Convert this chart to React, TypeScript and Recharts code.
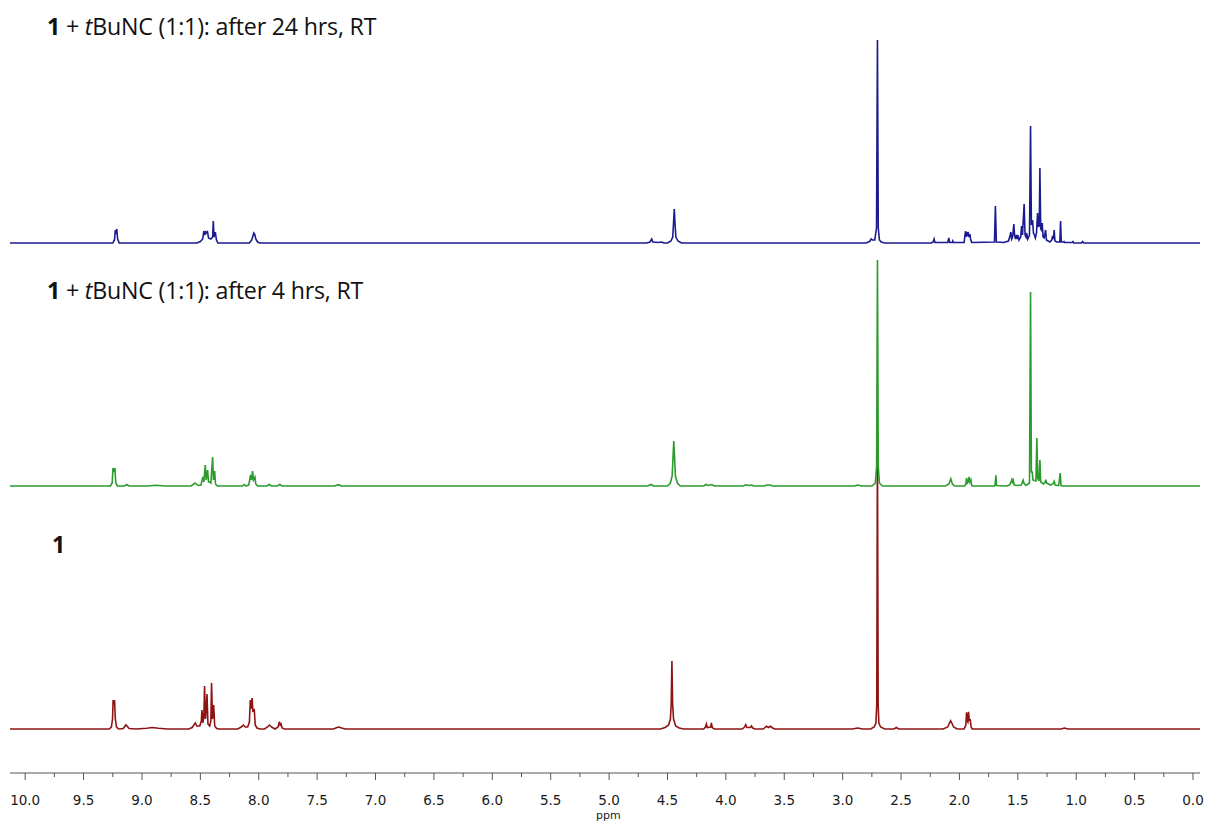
import { LineChart, Line, XAxis, YAxis } from "recharts";

// ppm axis ticks
const majorTicks = [10, 9.5, 9, 8.5, 8, 7.5, 7, 6.5, 6, 5.5, 5, 4.5, 4, 3.5, 3, 2.5, 2, 1.5, 1, 0.5, 0];
const minorTicks = [9.75, 9.25, 8.75, 8.25, 7.75, 7.25, 6.75, 6.25, 5.75, 5.25, 4.75, 4.25, 3.75, 3.25, 2.75, 2.25, 1.75, 1.25, 0.75, 0.25];

// [ppm, intensity], left to right
const blueTrace: [number, number][] = [
  [10.13, 0], [9.25, 0], [9.235, 3], [9.228, 13], [9.222, 11], [9.216, 14], [9.208, 4], [9.195, 0],
  [8.53, 0], [8.5, 1.5], [8.48, 4], [8.47, 12], [8.462, 8], [8.455, 11], [8.445, 10], [8.44, 12], [8.43, 5],
  [8.41, 4], [8.395, 6], [8.389, 22], [8.383, 6], [8.372, 11], [8.362, 3], [8.35, 0],
  [8.08, 0], [8.06, 3], [8.05, 7], [8.042, 10], [8.035, 9], [8.025, 4], [8.01, 1], [7.99, 0],
  [4.68, 0], [4.65, 1], [4.635, 4], [4.625, 1], [4.58, 0.5], [4.55, 1], [4.53, 0],
  [4.5, 0], [4.47, 2], [4.455, 6], [4.448, 20], [4.442, 34], [4.436, 20], [4.428, 6], [4.41, 2], [4.38, 0],
  [2.8, 0], [2.77, 1.5], [2.755, 4], [2.745, 3], [2.725, 3], [2.71, 15], [2.702, 203], [2.695, 15],
  [2.685, 3], [2.67, 1], [2.64, 0],
  [2.24, 0], [2.225, 1], [2.217, 4], [2.21, 0.5], [2.1, 0.5], [2.091, 5], [2.084, 0.5], [2.062, 0.5],
  [2.057, 2], [2.052, 0.5], [1.96, 0.5], [1.948, 12], [1.942, 6], [1.936, 11], [1.93, 7], [1.926, 11],
  [1.918, 6], [1.91, 9], [1.905, 4], [1.895, 0.5], [1.7, 1], [1.692, 37], [1.684, 1], [1.62, 0.5],
  [1.58, 2], [1.565, 8], [1.56, 11], [1.553, 4], [1.545, 6], [1.534, 19], [1.528, 8], [1.52, 4],
  [1.511, 8], [1.505, 4], [1.5, 8], [1.49, 3], [1.475, 6], [1.468, 17], [1.46, 8], [1.446, 39],
  [1.438, 8], [1.43, 6], [1.425, 10], [1.415, 4], [1.4, 8], [1.391, 117], [1.384, 18], [1.374, 23],
  [1.366, 10], [1.358, 8], [1.35, 5], [1.34, 10], [1.331, 30], [1.323, 16], [1.316, 18], [1.311, 75],
  [1.304, 14], [1.298, 13], [1.291, 20], [1.284, 6], [1.275, 5], [1.262, 13], [1.255, 3], [1.24, 2],
  [1.225, 1], [1.21, 3], [1.202, 7], [1.195, 4], [1.189, 13], [1.182, 2], [1.165, 1], [1.14, 1],
  [1.134, 22], [1.128, 1], [1.11, 1], [1.105, 1.5], [1.1, 0.5], [1.035, 0.5], [1.028, 1.5], [1.02, 0],
  [0.955, 0], [0.945, 1.5], [0.935, 0], [-0.06, 0],
];

const greenTrace: [number, number][] = [
  [10.13, 0], [9.27, 0], [9.255, 3], [9.248, 18], [9.24, 14], [9.232, 18], [9.224, 3], [9.21, 0],
  [9.15, 0], [9.13, 1.5], [9.11, 0], [8.95, 0], [8.88, 0.8], [8.8, 0],
  [8.58, 0], [8.545, 3], [8.52, 0.5], [8.495, 1], [8.478, 9], [8.47, 4], [8.458, 21], [8.45, 6],
  [8.438, 16], [8.43, 4], [8.42, 4], [8.41, 3], [8.395, 29], [8.388, 6], [8.378, 15], [8.37, 2], [8.355, 0],
  [8.14, 0], [8.125, 1.5], [8.11, 0], [8.085, 1], [8.07, 11], [8.062, 6], [8.053, 15], [8.045, 6],
  [8.033, 9], [8.025, 2], [8.01, 0], [7.93, 0], [7.91, 1.5], [7.89, 0], [7.84, 0], [7.82, 1.5], [7.8, 0],
  [7.35, 0], [7.32, 1.3], [7.29, 0],
  [4.67, 0], [4.64, 1.5], [4.62, 0], [4.5, 0], [4.475, 3], [4.46, 10], [4.452, 30], [4.446, 45],
  [4.44, 30], [4.432, 10], [4.415, 3], [4.39, 0],
  [4.19, 0], [4.17, 1.5], [4.15, 0.5], [4.12, 1.5], [4.1, 0], [3.85, 0], [3.83, 1.2], [3.8, 0.5],
  [3.78, 1], [3.76, 0], [3.67, 0], [3.65, 1], [3.62, 1], [3.6, 0], [2.9, 0], [2.87, 1], [2.84, 0],
  [2.75, 0], [2.72, 3], [2.709, 20], [2.702, 226], [2.695, 20], [2.685, 3], [2.66, 0],
  [2.12, 0], [2.09, 2], [2.074, 7.3], [2.06, 2], [2.04, 0], [1.955, 0], [1.945, 2], [1.939, 8],
  [1.932, 3], [1.925, 4], [1.917, 9], [1.91, 4], [1.902, 6], [1.895, 0.5], [1.88, 0],
  [1.7, 0], [1.695, 1], [1.688, 10.7], [1.682, 0.5], [1.6, 0], [1.57, 1], [1.555, 5], [1.551, 6.3],
  [1.546, 4], [1.54, 6], [1.53, 1], [1.51, 0.5], [1.47, 1], [1.46, 4], [1.454, 5.7], [1.448, 3],
  [1.43, 0.5], [1.4, 3], [1.391, 194], [1.384, 14], [1.377, 14], [1.37, 6], [1.345, 5], [1.337, 48],
  [1.33, 8], [1.32, 5], [1.311, 26], [1.304, 4], [1.28, 2], [1.265, 4], [1.26, 6.3], [1.255, 3],
  [1.22, 1], [1.2, 2], [1.189, 4.7], [1.18, 1], [1.15, 0.5], [1.137, 13], [1.13, 0.5], [1.11, 0],
  [-0.06, 0],
];

const redTrace: [number, number][] = [
  [10.13, 0], [9.28, 0], [9.262, 2], [9.252, 10], [9.247, 29], [9.241, 24], [9.235, 29], [9.228, 10],
  [9.218, 2], [9.2, 0], [9.16, 0.5], [9.145, 3], [9.137, 4.3], [9.128, 3], [9.11, 0.5], [9.05, 0],
  [8.96, 0.8], [8.91, 1.5], [8.86, 0.8], [8.78, 0],
  [8.6, 0], [8.57, 1.5], [8.55, 5], [8.543, 6], [8.53, 3], [8.505, 3], [8.492, 8], [8.486, 19],
  [8.478, 6], [8.47, 12], [8.464, 43], [8.456, 10], [8.449, 20], [8.443, 35], [8.435, 5], [8.42, 3],
  [8.41, 8], [8.404, 46], [8.396, 10], [8.386, 24], [8.377, 3], [8.36, 0.5], [8.34, 0],
  [8.18, 0], [8.15, 2], [8.132, 4], [8.115, 2], [8.095, 2], [8.08, 7], [8.072, 29], [8.066, 20],
  [8.057, 31], [8.05, 18], [8.038, 19], [8.03, 4], [8.015, 1], [7.99, 0],
  [7.95, 0], [7.925, 2], [7.909, 4], [7.89, 2], [7.86, 0], [7.835, 2], [7.823, 7.3], [7.816, 4],
  [7.809, 5], [7.8, 1], [7.78, 0], [7.36, 0], [7.33, 1.5], [7.315, 2], [7.29, 1], [7.26, 0],
  [4.56, 0], [4.52, 1.5], [4.49, 4], [4.475, 10], [4.468, 25], [4.462, 68], [4.456, 25], [4.448, 10],
  [4.43, 3], [4.4, 1], [4.36, 0],
  [4.19, 0], [4.175, 2], [4.167, 5], [4.16, 1.5], [4.13, 2], [4.124, 6], [4.117, 1.5], [4.1, 0],
  [3.86, 0], [3.84, 2], [3.83, 4.3], [3.82, 1.5], [3.79, 1.5], [3.781, 3], [3.77, 1], [3.75, 0],
  [3.68, 0], [3.66, 2], [3.653, 2.7], [3.635, 1.5], [3.616, 2.7], [3.6, 1], [3.58, 0],
  [2.92, 0], [2.87, 1], [2.83, 0], [2.76, 0], [2.73, 2], [2.715, 6], [2.708, 25], [2.702, 292],
  [2.696, 25], [2.69, 6], [2.675, 2], [2.64, 0], [2.56, 0], [2.54, 1.5], [2.52, 0],
  [2.14, 0], [2.1, 2], [2.085, 6], [2.076, 8.3], [2.065, 6], [2.05, 2], [2.02, 0],
  [1.96, 0], [1.945, 4], [1.939, 16.7], [1.933, 8], [1.928, 7], [1.922, 17.3], [1.915, 8],
  [1.908, 10], [1.9, 2], [1.89, 0], [1.13, 0], [1.1, 1], [1.07, 0], [-0.06, 0],
];

// vertical offsets of the stacked traces
const OFFSET = { blue: 530, green: 287, red: 44 };

const toRows = (trace: [number, number][], off: number) =>
  trace.map(([ppm, v]) => ({ ppm, y: v + off }));

const PpmTick = (props: any) => {
  const { x, y, payload } = props;
  const major = majorTicks.includes(payload.value);
  return (
    <g>
      <line x1={x} x2={x} y1={y} y2={y + (major ? 7 : 4)} stroke="#555" strokeWidth={1} />
      {major && (
        <text
          x={x}
          y={y + 32}
          textAnchor="middle"
          fontFamily="DejaVu Sans"
          fontSize={13.5}
          fill="#1a1a1a"
        >
          {payload.value.toFixed(1)}
        </text>
      )}
    </g>
  );
};

const titleStyle: any = {
  position: "absolute",
  fontFamily: "'Open Sans', sans-serif",
  fontSize: 23.2,
  color: "#111",
  whiteSpace: "nowrap",
  lineHeight: 1,
  letterSpacing: -0.2,
};

function Title({ time, top }: { time: string; top: number }) {
  return (
    <div style={{ ...titleStyle, left: 47, top }}>
      <b>1</b> + <i>t</i>BuNC (1:1): after {time} hrs, RT
    </div>
  );
}

export default function App() {
  return (
    <div
      style={{
        position: "absolute",
        left: 0,
        top: 0,
        width: 1208,
        height: 826,
        background: "#fff",
        overflow: "hidden",
      }}
    >
      <LineChart width={1208} height={826} margin={{ top: 10, right: 8, bottom: 0, left: 10 }}>
        <XAxis
          dataKey="ppm"
          type="number"
          domain={[-0.06, 10.13]}
          reversed
          allowDataOverflow
          ticks={[...majorTicks, ...minorTicks].sort((a, b) => b - a)}
          interval={0}
          tickSize={0}
          tickMargin={0}
          tickLine={false}
          tick={<PpmTick />}
          axisLine={{ stroke: "#555", strokeWidth: 1 }}
          height={53}
        />
        <YAxis hide type="number" domain={[0, 763]} />
        <Line
          data={toRows(redTrace, OFFSET.red)}
          dataKey="y"
          type="linear"
          stroke="#8e1414"
          strokeWidth={1.6}
          dot={false}
          isAnimationActive={false}
        />
        <Line
          data={toRows(greenTrace, OFFSET.green)}
          dataKey="y"
          type="linear"
          stroke="#2c9a2c"
          strokeWidth={1.6}
          dot={false}
          isAnimationActive={false}
        />
        <Line
          data={toRows(blueTrace, OFFSET.blue)}
          dataKey="y"
          type="linear"
          stroke="#1b1b8f"
          strokeWidth={1.6}
          dot={false}
          isAnimationActive={false}
        />
      </LineChart>
      <Title time="24" top={15} />
      <Title time="4" top={279} />
      <div style={{ ...titleStyle, left: 52, top: 533, fontWeight: "bold" }}>1</div>
      <div
        style={{
          position: "absolute",
          left: 596,
          top: 809,
          fontFamily: "DejaVu Sans",
          fontSize: 11,
          color: "#222",
        }}
      >
        ppm
      </div>
    </div>
  );
}
